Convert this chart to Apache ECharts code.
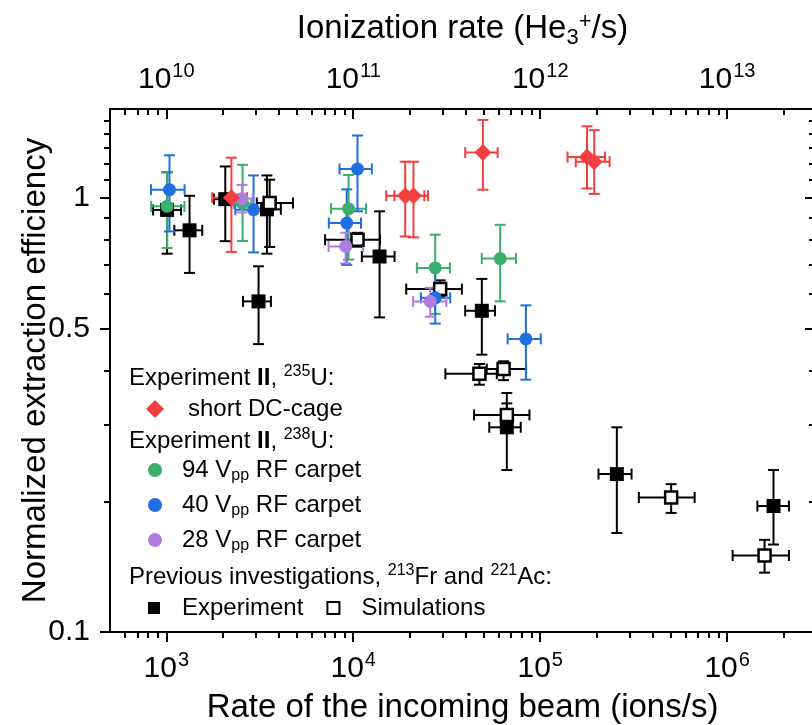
<!DOCTYPE html>
<html>
<head>
<meta charset="utf-8">
<title>Extraction efficiency vs beam rate</title>
<script src="https://cdn.jsdelivr.net/npm/echarts@6/dist/echarts.min.js"></script>
<style>
  html, body { margin: 0; padding: 0; background: #fff; }
  #chart { width: 812px; height: 725px; }
</style>
</head>
<body>
<div id="chart"></div>
<script>
// ------------------------------------------------------------
// data, one row per point: [rate, efficiency, rateLow, rateHigh, effLow, effHigh]
// ------------------------------------------------------------
var DC_CAGE = [
  [2230, 1.00, 1760, 2700, 0.750, 1.236],
  [18970, 1.01, 15000, 24000, 0.814, 1.21],
  [21000, 1.01, 16600, 25100, 0.810, 1.21],
  [49400, 1.27, 39700, 59200, 1.043, 1.51],
  [178000, 1.24, 140000, 222000, 1.05, 1.46],
  [194500, 1.21, 155000, 235000, 1.02, 1.43]
];
var RF_94 = [
  [1010, 0.955, 830, 1250, 0.766, 1.144],
  [2560, 0.97, 2300, 2850, 0.795, 1.19],
  [9440, 0.943, 7600, 11700, 0.72, 1.128],
  [27450, 0.689, 21900, 32900, 0.54, 0.822],
  [61100, 0.724, 48700, 74300, 0.577, 0.866]
];
var RF_40 = [
  [1040, 1.043, 828, 1253, 0.836, 1.252],
  [2930, 0.938, 2340, 3560, 0.748, 1.125],
  [10540, 1.164, 8450, 12570, 0.93, 1.39],
  [9230, 0.874, 7400, 11000, 0.70, 1.045],
  [27450, 0.588, 23000, 33000, 0.513, 0.70],
  [83850, 0.473, 67000, 100700, 0.381, 0.565]
];
var RF_28 = [
  [2540, 0.995, 2250, 2900, 0.925, 1.07],
  [9110, 0.772, 7380, 11300, 0.706, 0.83],
  [25800, 0.577, 20900, 31500, 0.532, 0.62]
];
var PREV_EXP = [
  [1010, 0.937, 850, 1200, 0.743, 1.144],
  [1332, 0.841, 1104, 1557, 0.671, 1.01],
  [2068, 0.992, 1800, 2400, 0.794, 1.18],
  [3115, 0.577, 2572, 3628, 0.460, 0.695],
  [3454, 0.94, 2900, 4100, 0.743, 1.125],
  [13830, 0.732, 11120, 16640, 0.53, 0.93],
  [48740, 0.549, 39700, 57300, 0.435, 0.65],
  [66300, 0.296, 53400, 78700, 0.236, 0.355],
  [257000, 0.231, 205000, 308000, 0.169, 0.296],
  [1770000, 0.195, 1450000, 2140000, 0.159, 0.236]
];
var PREV_SIM = [
  [3572, 0.972, 3050, 4760, 0.77, 1.10],
  [10540, 0.80, 7070, 13900, 0.77, 0.83],
  [29170, 0.616, 19200, 38100, 0.59, 0.645],
  [47300, 0.393, 31100, 58600, 0.371, 0.414],
  [63700, 0.403, 51800, 84000, 0.38, 0.42],
  [66300, 0.316, 44300, 87600, 0.297, 0.336],
  [501700, 0.204, 337000, 670000, 0.188, 0.219],
  [1585000, 0.150, 1070000, 2140000, 0.137, 0.163]
];

// axis ticks
var X_MAJOR = [1e3, 1e4, 1e5, 1e6];
var X_MINOR = [600, 700, 800, 900, 2e3, 3e3, 4e3, 5e3, 6e3, 7e3, 8e3, 9e3,
  2e4, 3e4, 4e4, 5e4, 6e4, 7e4, 8e4, 9e4, 2e5, 3e5, 4e5, 5e5, 6e5, 7e5, 8e5, 9e5, 2e6];
var ION_FACTOR = 1e7; // ionization rate = beam rate * 1e7
var Y_MAJOR = [0.1, 0.5, 1];
var Y_MAJOR_LABELS = ['0.1', '0.5', '1'];
var Y_MINOR = [0.2, 0.3, 0.4, 0.6, 0.7, 0.8, 0.9, 1.1, 1.2, 1.3, 1.4, 1.5];

var X_MIN = 500, X_MAX = 2.95e6;
var Y_MIN = 0.1, Y_MAX = 1.6;

var COLORS = { red: '#f23f3f', green: '#3aae6c', blue: '#1f6fe3', purple: '#b07ce0', black: '#000000' };
var FONT = '"Liberation Sans", Arial, sans-serif';

// ------------------------------------------------------------
// helpers
// ------------------------------------------------------------
function powLabel(v) {
  var e = Math.round(Math.log10(v));
  return '{b|10}{s|' + e + '}';
}
var POW_RICH = {
  b: { fontSize: 30, fontFamily: FONT, color: '#000', lineHeight: 34, verticalAlign: 'bottom' },
  s: { fontSize: 20, fontFamily: FONT, color: '#000', lineHeight: 34, verticalAlign: 'top', padding: [0, 0, 0, 1] }
};

function scaled(arr, f) {
  return arr.map(function (v) { return v * f; });
}

function errorBarSeries(rows, color) {
  return {
    type: 'custom',
    xAxisIndex: 0,
    yAxisIndex: 0,
    silent: true,
    data: rows,
    encode: { x: 0, y: 1 },
    renderItem: function (params, api) {
      var c = api.coord([api.value(0), api.value(1)]);
      var xl = api.coord([api.value(2), api.value(1)]);
      var xh = api.coord([api.value(3), api.value(1)]);
      var yl = api.coord([api.value(0), api.value(4)]);
      var yh = api.coord([api.value(0), api.value(5)]);
      var cap = 5.5;
      var style = { stroke: color, lineWidth: 2, fill: null };
      var lines = [
        [xl[0], c[1], xh[0], c[1]],
        [xl[0], c[1] - cap, xl[0], c[1] + cap],
        [xh[0], c[1] - cap, xh[0], c[1] + cap],
        [c[0], yl[1], c[0], yh[1]],
        [c[0] - cap, yl[1], c[0] + cap, yl[1]],
        [c[0] - cap, yh[1], c[0] + cap, yh[1]]
      ];
      return {
        type: 'group',
        children: lines.map(function (l) {
          return { type: 'line', shape: { x1: l[0], y1: l[1], x2: l[2], y2: l[3] }, style: style };
        })
      };
    }
  };
}

function pointSeries(name, rows, symbol, size, itemStyle) {
  return {
    name: name,
    type: 'scatter',
    xAxisIndex: 0,
    yAxisIndex: 0,
    symbol: symbol,
    symbolSize: size,
    data: rows.map(function (r) { return [r[0], r[1]]; }),
    itemStyle: Object.assign({ opacity: 1 }, itemStyle),
    emphasis: { disabled: true }
  };
}

// axes builders
function logX(opts) {
  return Object.assign({
    type: 'log', logBase: 10, gridIndex: 0,
    min: X_MIN, max: X_MAX,
    axisLine: { show: false, onZero: false },
    splitLine: { show: false },
    minorTick: { show: false },
    axisLabel: { show: false },
    nameMoveOverlap: false
  }, opts);
}
function logY(opts) {
  return Object.assign({
    type: 'log', logBase: 10, gridIndex: 0,
    min: Y_MIN, max: Y_MAX,
    axisLine: { show: false, onZero: false },
    splitLine: { show: false },
    minorTick: { show: false },
    axisLabel: { show: false },
    nameMoveOverlap: false
  }, opts);
}
var AXIS_LINE = { show: true, onZero: false, lineStyle: { color: '#000', width: 2 } };
function ticks(values, len, inside) {
  return { show: true, customValues: values, length: len, inside: inside, lineStyle: { color: '#000', width: 2 } };
}

// ------------------------------------------------------------
// chart
// ------------------------------------------------------------
var chart = echarts.init(document.getElementById('chart'), null, { renderer: 'canvas' });

var legendText = function (pad) {
  return {
    fontSize: 24, fontFamily: FONT, color: '#000', lineHeight: 28,
    padding: [0, 0, 0, pad],
    rich: {
      sub: { fontSize: 16, fontFamily: FONT, color: '#000', lineHeight: 28, verticalAlign: 'bottom' }
    }
  };
};
var vppFormatter = function (name) {
  return name.replace('Vpp ', 'V{sub|pp} ');
};

var headingRich = {
  sup: { fontSize: 16, fontFamily: FONT, fill: '#000', verticalAlign: 'top', lineHeight: 28 },
  b: { fontSize: 24, fontFamily: FONT, fill: '#000', fontWeight: 'bold', lineHeight: 28 }
};
function heading(text, top) {
  return {
    type: 'text', left: 129, top: top,
    style: { text: text, fontSize: 24, fontFamily: FONT, fill: '#000', lineHeight: 28, rich: headingRich }
  };
}

chart.setOption({
  backgroundColor: '#ffffff',
  animation: false,
  textStyle: { fontFamily: FONT },
  grid: { left: 110, top: 109, width: 705, height: 523, containLabel: false, outerBoundsMode: 'none' },
  xAxis: [
    logX({
      position: 'bottom',
      axisLine: AXIS_LINE,
      axisTick: ticks(X_MAJOR, 10, false),
      axisLabel: { show: true, customValues: X_MAJOR, margin: 18, formatter: powLabel, rich: POW_RICH },
      name: 'Rate of the incoming beam (ions/s)',
      nameLocation: 'middle', nameGap: 59,
      nameTextStyle: { fontSize: 33, fontFamily: FONT, color: '#000' }
    }),
    logX({ position: 'bottom', axisTick: ticks(X_MINOR, 6, false) }),
    logX({
      position: 'top',
      min: X_MIN * ION_FACTOR, max: X_MAX * ION_FACTOR,
      axisLine: AXIS_LINE,
      axisTick: ticks(scaled(X_MAJOR, ION_FACTOR), 10, true),
      axisLabel: { show: true, customValues: scaled(X_MAJOR, ION_FACTOR), margin: 14, formatter: powLabel, rich: POW_RICH },
      name: 'Ionization rate (He{sub|3}{sup|+}/s)',
      nameLocation: 'middle', nameGap: 60,
      nameTextStyle: {
        fontSize: 33, fontFamily: FONT, color: '#000', lineHeight: 40,
        rich: {
          sub: { fontSize: 22, fontFamily: FONT, color: '#000', lineHeight: 40, verticalAlign: 'bottom' },
          sup: { fontSize: 22, fontFamily: FONT, color: '#000', lineHeight: 40, verticalAlign: 'top', padding: [2, 0, 0, 0] }
        }
      }
    }),
    logX({
      position: 'top',
      min: X_MIN * ION_FACTOR, max: X_MAX * ION_FACTOR,
      axisTick: ticks(scaled(X_MINOR, ION_FACTOR), 6, true)
    })
  ],
  yAxis: [
    logY({
      position: 'left',
      axisLine: AXIS_LINE,
      axisTick: ticks(Y_MAJOR, 10, false),
      axisLabel: {
        show: true, customValues: Y_MAJOR, margin: 20,
        fontSize: 30, fontFamily: FONT, color: '#000',
        formatter: function (v) {
          var i = Y_MAJOR.indexOf(v);
          return i >= 0 ? Y_MAJOR_LABELS[i] : String(v);
        }
      },
      name: 'Normalized extraction efficiency',
      nameLocation: 'middle', nameGap: 58,
      nameTextStyle: { fontSize: 33, fontFamily: FONT, color: '#000' }
    }),
    logY({ position: 'left', axisTick: ticks(Y_MINOR, 6, false) }),
    logY({ position: 'right', axisLine: AXIS_LINE, axisTick: ticks(Y_MAJOR, 10, true) }),
    logY({ position: 'right', axisTick: ticks(Y_MINOR, 6, true) })
  ],
  legend: [
    {
      data: ['short DC-cage'], left: 146, top: 395, padding: 0,
      itemWidth: 18, itemHeight: 18, selectedMode: false,
      textStyle: legendText(19)
    },
    {
      data: ['94 Vpp RF carpet'], left: 148, top: 456, padding: 0,
      itemWidth: 14, itemHeight: 14, selectedMode: false,
      formatter: vppFormatter, textStyle: legendText(15)
    },
    {
      data: ['40 Vpp RF carpet'], left: 148, top: 491, padding: 0,
      itemWidth: 14, itemHeight: 14, selectedMode: false,
      formatter: vppFormatter, textStyle: legendText(15)
    },
    {
      data: ['28 Vpp RF carpet'], left: 148, top: 526, padding: 0,
      itemWidth: 14, itemHeight: 14, selectedMode: false,
      formatter: vppFormatter, textStyle: legendText(15)
    },
    {
      data: ['Experiment', 'Simulations'], left: 148, top: 594, padding: 0,
      itemWidth: 12, itemHeight: 12, itemGap: 23, selectedMode: false,
      textStyle: legendText(17)
    }
  ],
  graphic: [
    heading('Experiment {b|II}, {sup|235}U:', 364),
    heading('Experiment {b|II}, {sup|238}U:', 427),
    heading('Previous investigations, {sup|213}Fr and {sup|221}Ac:', 563)
  ],
  series: [
    errorBarSeries(PREV_EXP, COLORS.black),
    pointSeries('Experiment', PREV_EXP, 'rect', 14, { color: '#000' }),
    errorBarSeries(PREV_SIM, COLORS.black),
    pointSeries('Simulations', PREV_SIM, 'rect', 12, { color: '#fff', borderColor: '#000', borderWidth: 2.5 }),
    errorBarSeries(RF_94, COLORS.green),
    pointSeries('94 Vpp RF carpet', RF_94, 'circle', 13, { color: COLORS.green }),
    errorBarSeries(RF_40, COLORS.blue),
    pointSeries('40 Vpp RF carpet', RF_40, 'circle', 13, { color: COLORS.blue }),
    errorBarSeries(RF_28, COLORS.purple),
    pointSeries('28 Vpp RF carpet', RF_28, 'circle', 13, { color: COLORS.purple }),
    errorBarSeries(DC_CAGE, COLORS.red),
    pointSeries('short DC-cage', DC_CAGE, 'diamond', 17, { color: COLORS.red })
  ]
});
</script>
</body>
</html>
